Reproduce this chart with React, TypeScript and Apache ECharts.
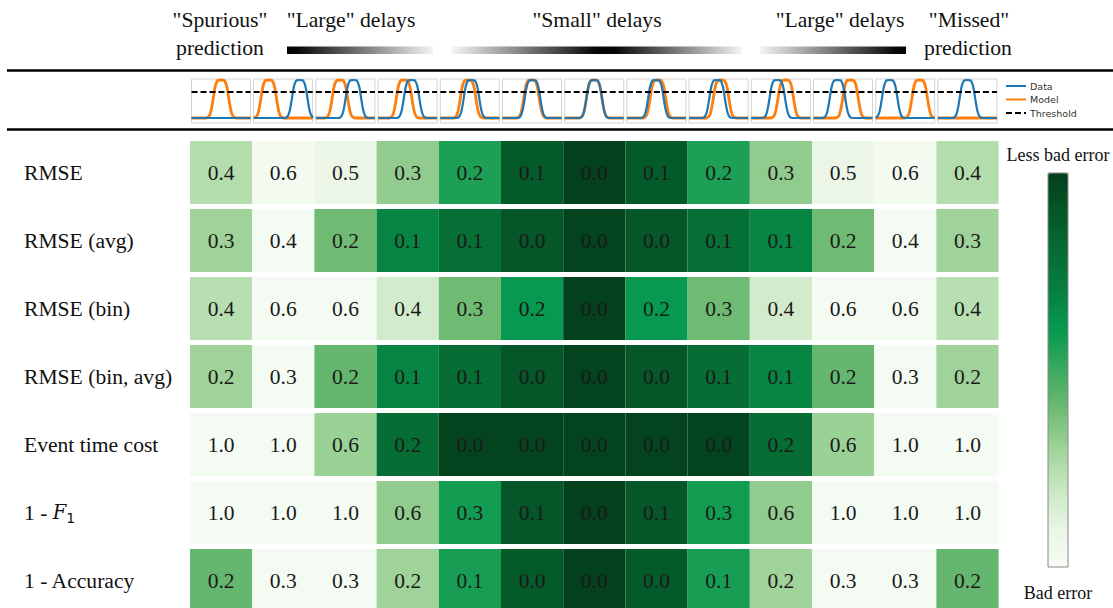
import React, { useEffect, useRef } from "react";
import * as echarts from "echarts";

// ---- data ----
const scenarios = [
  "Spurious", "Large -3", "Large -2", "Small -3", "Small -2", "Small -1", "Exact",
  "Small +1", "Small +2", "Small +3", "Large +2", "Large +3", "Missed",
];
const metrics = ["RMSE", "RMSE (avg)", "RMSE (bin)", "RMSE (bin, avg)", "Event time cost", "1 - F1", "1 - Accuracy"];

// displayed error values
const rmse = [0.4, 0.6, 0.5, 0.3, 0.2, 0.1, 0.0, 0.1, 0.2, 0.3, 0.5, 0.6, 0.4];
const rmseAvg = [0.3, 0.4, 0.2, 0.1, 0.1, 0.0, 0.0, 0.0, 0.1, 0.1, 0.2, 0.4, 0.3];
const rmseBin = [0.4, 0.6, 0.6, 0.4, 0.3, 0.2, 0.0, 0.2, 0.3, 0.4, 0.6, 0.6, 0.4];
const rmseBinAvg = [0.2, 0.3, 0.2, 0.1, 0.1, 0.0, 0.0, 0.0, 0.1, 0.1, 0.2, 0.3, 0.2];
const eventTimeCost = [1.0, 1.0, 0.6, 0.2, 0.0, 0.0, 0.0, 0.0, 0.0, 0.2, 0.6, 1.0, 1.0];
const oneMinusF1 = [1.0, 1.0, 1.0, 0.6, 0.3, 0.1, 0.0, 0.1, 0.3, 0.6, 1.0, 1.0, 1.0];
const oneMinusAccuracy = [0.2, 0.3, 0.3, 0.2, 0.1, 0.0, 0.0, 0.0, 0.1, 0.2, 0.3, 0.3, 0.2];

// row-normalised shade ("less bad" = 1, "bad" = 0)
const rmseShade = [0.25, 0.03, 0.08, 0.33, 0.56, 0.88, 1.0, 0.88, 0.56, 0.33, 0.08, 0.03, 0.25];
const rmseAvgShade = [0.3, 0.02, 0.4, 0.68, 0.78, 0.9, 0.98, 0.9, 0.78, 0.68, 0.4, 0.02, 0.3];
const rmseBinShade = [0.24, 0.02, 0.02, 0.17, 0.4, 0.6, 1.0, 0.6, 0.4, 0.17, 0.02, 0.02, 0.24];
const rmseBinAvgShade = [0.3, 0.02, 0.42, 0.68, 0.79, 0.9, 0.98, 0.9, 0.79, 0.68, 0.42, 0.02, 0.3];
const eventTimeCostShade = [0.02, 0.02, 0.31, 0.79, 0.98, 0.98, 0.98, 0.98, 0.98, 0.79, 0.31, 0.02, 0.02];
const oneMinusF1Shade = [0.02, 0.02, 0.02, 0.33, 0.58, 0.9, 1.0, 0.9, 0.58, 0.33, 0.02, 0.02, 0.02];
const oneMinusAccuracyShade = [0.42, 0.02, 0.02, 0.3, 0.57, 0.88, 1.0, 0.88, 0.57, 0.3, 0.02, 0.02, 0.42];

const rowValues = [rmse, rmseAvg, rmseBin, rmseBinAvg, eventTimeCost, oneMinusF1, oneMinusAccuracy];
const rowShades = [rmseShade, rmseAvgShade, rmseBinShade, rmseBinAvgShade, eventTimeCostShade, oneMinusF1Shade, oneMinusAccuracyShade];

// thumbnail pulses: centre positions (px within the 59-px box); null = no event
const dataCenters = [null, 46, 37.5, 33.5, 31.2, 30, 29.5, 29, 28, 26, 24, 14, 29.5];
const modelCenters = [29.5, 15, 24, 26, 27.8, 29, 29.5, 31, 32, 34.5, 37, 44, null];
// pulse template (offset from centre in px, height)
const pulseOffsets = [-15, -12.5, -11, -10, -9, -8, -7, -6, -5, -4, -3, 0, 3, 4, 5, 6, 7, 8, 9, 10, 11, 12.5, 15];
const pulseHeights = [0, 0.03, 0.1, 0.19, 0.32, 0.48, 0.65, 0.8, 0.9, 0.96, 0.99, 1, 0.99, 0.96, 0.9, 0.8, 0.65, 0.48, 0.32, 0.19, 0.1, 0.03, 0];
const threshold = 0.684;

const greens = ["#f7fcf5", "#e8f5e4", "#c8e7c1", "#9fd399", "#6fbb73", "#3da85f", "#07994f", "#068040", "#066b33", "#055628", "#03401c"];

const SERIF = '"Liberation Serif", "Times New Roman", serif';
const SANS = '"DejaVu Sans", sans-serif';

const BOX_W = 59;
const COL_W = 62.2;
const GRID_LEFT = 190;

function pulseLine(center: number | null): number[][] {
  const pts: number[][] = [[0, 0]];
  if (center !== null) {
    pulseOffsets.forEach((o, k) => {
      const x = center + o;
      if (x > 0 && x < BOX_W) pts.push([x, pulseHeights[k]]);
    });
  }
  pts.push([BOX_W, 0]);
  return pts;
}

export default function App() {
  const ref = useRef<HTMLDivElement>(null);

  useEffect(() => {
    if (!ref.current) return;
    const chart = echarts.init(ref.current, null, { renderer: "svg" });

    const cells: any[] = [];
    rowValues.forEach((vals, r) => {
      vals.forEach((v, c) => {
        cells.push([c, r, rowShades[r][c], v]);
      });
    });

    const grids: any[] = [{ left: GRID_LEFT, top: 138.5, width: COL_W * 13, height: 476 }];
    const xAxes: any[] = [{ type: "category", data: scenarios, gridIndex: 0, show: false }];
    const yAxes: any[] = [
      {
        type: "category",
        data: metrics,
        gridIndex: 0,
        inverse: true,
        axisLine: { show: false },
        axisTick: { show: false },
        splitLine: { show: false },
        axisLabel: {
          align: "left",
          margin: GRID_LEFT - 24,
          color: "#111",
          fontFamily: SERIF,
          fontSize: 21.6,
          formatter: (v: string) => (v === "1 - F1" ? "1 - {it|F}{sub|1}" : v),
          rich: {
            it: { fontFamily: '"DejaVu Serif", serif', fontStyle: "italic", fontSize: 19.5, color: "#111" },
            sub: { fontFamily: SANS, fontSize: 14, color: "#111", padding: [11, 0, 0, 0] },
          },
        },
      },
    ];

    const series: any[] = [
      {
        type: "custom",
        name: "Error",
        xAxisIndex: 0,
        yAxisIndex: 0,
        dimensions: ["col", "row", "shade", "value"],
        encode: { x: 0, y: 1 },
        data: cells,
        renderItem: (params: any, api: any) => {
          const c = api.value(0);
          const r = api.value(1);
          const v = api.value(3);
          const p = api.coord([c, r]);
          const s = api.size([1, 1]);
          const w = s[0];
          const h = s[1] - 5;
          return {
            type: "group",
            children: [
              {
                type: "rect",
                shape: { x: p[0] - w / 2, y: p[1] - h / 2, width: w, height: h },
                style: { fill: api.visual("color") },
              },
              {
                type: "text",
                style: {
                  text: Number(v).toFixed(1),
                  x: p[0],
                  y: p[1],
                  align: "center",
                  verticalAlign: "middle",
                  fontFamily: SERIF,
                  fontSize: 21.5,
                  fill: "#1a1a1a",
                },
              },
            ],
          };
        },
      },
    ];

    scenarios.forEach((_, i) => {
      const gi = i + 1;
      grids.push({
        left: GRID_LEFT + COL_W * i + 1.5,
        top: 79,
        width: BOX_W,
        height: 44,
        show: true,
        borderColor: "#d2d2d2",
        borderWidth: 1,
        backgroundColor: "transparent",
      });
      xAxes.push({ type: "value", gridIndex: gi, min: 0, max: BOX_W, show: false });
      yAxes.push({ type: "value", gridIndex: gi, min: -0.132, max: 1.026, show: false });
      series.push({
        type: "line",
        name: "Model",
        xAxisIndex: gi,
        yAxisIndex: gi,
        data: pulseLine(modelCenters[i]),
        symbol: "none",
        smooth: 0.2,
        lineStyle: { color: "#ff7f0e", width: 2.8 },
        itemStyle: { color: "#ff7f0e" },
        z: 2,
      });
      series.push({
        type: "line",
        name: "Data",
        xAxisIndex: gi,
        yAxisIndex: gi,
        data: pulseLine(dataCenters[i]),
        symbol: "none",
        smooth: 0.2,
        lineStyle: { color: "#1f77b4", width: 2.2 },
        itemStyle: { color: "#1f77b4" },
        z: 3,
      });
      series.push({
        type: "line",
        name: "Threshold",
        xAxisIndex: gi,
        yAxisIndex: gi,
        data: [[0, threshold], [BOX_W, threshold]],
        symbol: "none",
        lineStyle: { color: "#000", width: 2, type: [6, 3] },
        itemStyle: { color: "#000" },
        z: 4,
      });
    });

    const headerText = (text: string, x: number, y: number) => ({
      type: "text",
      x,
      y,
      style: {
        text,
        align: "center",
        verticalAlign: "middle",
        fontFamily: SERIF,
        fontSize: 21.7,
        fill: "#111",
      },
    });

    const grad = (stops: [number, string][]) => ({
      type: "linear",
      x: 0,
      y: 0,
      x2: 1,
      y2: 0,
      colorStops: stops.map(([offset, color]) => ({ offset, color })),
    });

    chart.setOption({
      animation: false,
      backgroundColor: "#ffffff",
      grid: grids,
      xAxis: xAxes,
      yAxis: yAxes,
      series,
      legend: {
        data: ["Data", "Model", "Threshold"],
        orient: "vertical",
        left: 1005,
        top: 81,
        padding: 0,
        itemWidth: 20,
        itemHeight: 10,
        itemGap: 3.5,
        selectedMode: false,
        itemStyle: { opacity: 0 },
        textStyle: { fontFamily: SANS, fontSize: 9.5, color: "#333", padding: [0, 0, 0, -1] },
      },
      visualMap: {
        type: "continuous",
        seriesIndex: 0,
        dimension: 2,
        min: 0,
        max: 1,
        orient: "vertical",
        left: 1048,
        top: 173,
        padding: 0,
        itemWidth: 20,
        itemHeight: 394,
        calculable: false,
        showLabel: false,
        text: ["", ""],
        inRange: { color: greens },
      },
      graphic: [
        { type: "line", shape: { x1: 7, y1: 70.5, x2: 1113, y2: 70.5 }, style: { stroke: "#000", lineWidth: 2.5 } },
        { type: "line", shape: { x1: 7, y1: 129.5, x2: 1113, y2: 129.5 }, style: { stroke: "#000", lineWidth: 2.5 } },
        headerText('"Spurious"', 220, 20),
        headerText("prediction", 220, 48),
        headerText('"Large" delays', 351, 20),
        headerText('"Small" delays', 597, 20),
        headerText('"Large" delays', 840, 20),
        headerText('"Missed"', 969, 20),
        headerText("prediction", 968, 48),
        {
          type: "rect",
          shape: { x: 287, y: 46.5, width: 146, height: 7.5 },
          style: { fill: grad([[0, "#000000"], [0.08, "#0a0a0a"], [1, "#f4f4f4"]]) },
        },
        {
          type: "rect",
          shape: { x: 452, y: 46.5, width: 290, height: 7.5 },
          style: { fill: grad([[0, "#f4f4f4"], [0.5, "#050505"], [0.56, "#050505"], [1, "#f4f4f4"]]) },
        },
        {
          type: "rect",
          shape: { x: 760, y: 46.5, width: 146, height: 7.5 },
          style: { fill: grad([[0, "#f4f4f4"], [0.92, "#0a0a0a"], [1, "#000000"]]) },
        },
        {
          type: "rect",
          z: 100,
          shape: { x: 1048, y: 173, width: 20, height: 394 },
          style: { fill: "none", stroke: "#8a8a8a", lineWidth: 1 },
        },
        {
          type: "text",
          x: 1058,
          y: 155,
          style: { text: "Less bad error", align: "center", verticalAlign: "middle", fontFamily: SERIF, fontSize: 18, fill: "#111" },
        },
        {
          type: "text",
          x: 1058,
          y: 593,
          style: { text: "Bad error", align: "center", verticalAlign: "middle", fontFamily: SERIF, fontSize: 18, fill: "#111" },
        },
      ],
    });

    return () => chart.dispose();
  }, []);

  return (
    <div style={{ position: "absolute", left: 0, top: 0, width: 1113, height: 608, overflow: "hidden", background: "#fff" }}>
      <div ref={ref} style={{ width: 1113, height: 620 }} />
    </div>
  );
}
